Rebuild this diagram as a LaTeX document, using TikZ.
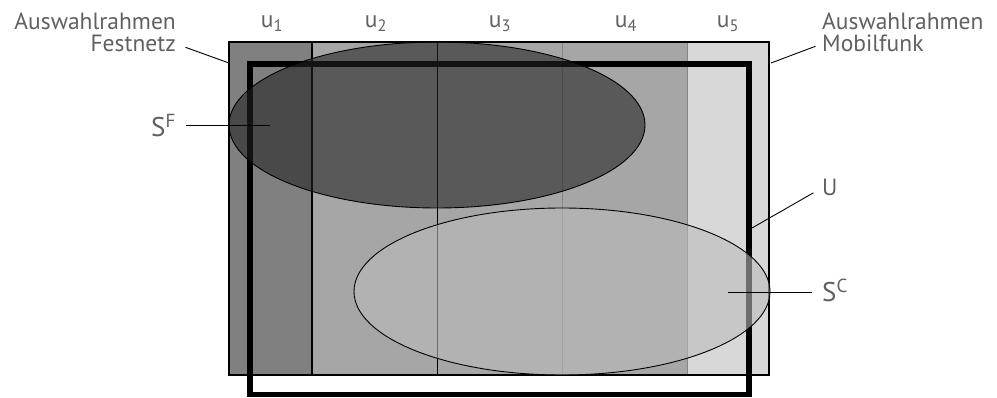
\documentclass[tikz,border=0pt]{standalone}
\usepackage{fontspec}
\setmainfont{PT Sans}
\usetikzlibrary{shapes.geometric}
\definecolor{txtgray}{HTML}{606060}
\definecolor{colA}{HTML}{808080}
\definecolor{colB}{HTML}{A6A6A6}
\definecolor{colC}{HTML}{D8D8D8}
\definecolor{setF}{HTML}{222222}
\definecolor{setC}{HTML}{BCBCBC}
\definecolor{sepgray}{HTML}{858585}

\begin{document}
\begin{tikzpicture}[
  x=1pt, y=-1pt,
  lbl/.style={inner sep=0pt, text=txtgray, font=\fontsize{23.5}{20}\selectfont},
  biglbl/.style={lbl, font=\fontsize{27}{27}\selectfont},
  leader/.style={draw=black, line width=0.9pt, shorten <=10pt},
  sample/.style={ellipse, draw=black, line width=0.9pt, fill opacity=0.58, minimum width=416pt, minimum height=166pt, inner sep=0pt},
  sep/.style={line width=0.9pt},
]
\useasboundingbox (0,0) rectangle (997,398);

% frames
\fill[colA] (229,42) rectangle (312,375);
\fill[colB] (312,42) rectangle (687,375);
\fill[colC] (687,42) rectangle (769,375);
\draw[sep] (437,42) -- (437,375);
\draw[sep, sepgray] (562,42) -- (562,375);
\draw[sep, sepgray] (687,42) -- (687,375);
\draw[line width=1.2pt] (312,42) -- (312,375);
\draw[line width=1.5pt] (229,42) rectangle (769,375);

% U
\draw[line width=5.5pt] (250,64) rectangle (749,394.5);

% samples
\node[sample, fill=setF] (sF) at (437,125) {};
\node[sample, fill=setC, minimum height=167pt] (sC) at (562,291.5) {};

% labels
\node[lbl, anchor=base east] (fnTop) at (176,30) {Auswahlrahmen};
\node[lbl, anchor=base east] (fn) at (176,52) {Festnetz};
\node[lbl, anchor=base west] (mfTop) at (822,30) {Auswahlrahmen};
\node[lbl, anchor=base west] (mf) at (822,52) {Mobilfunk};

\foreach \i/\x in {1/272,2/376,3/500,4/626,5/728}
  \node[lbl, anchor=base] (u\i) at (\x,28) {u\textsubscript{\i}};

\node[biglbl, anchor=base east] (sFlbl) at (176,137) {S\textsuperscript{F}};
\node[biglbl, anchor=base west] (sClbl) at (822,302) {S\textsuperscript{C}};
\node[lbl, anchor=base west] (ulbl) at (822,196) {U};

\coordinate (fnpt) at (229,63);
\coordinate (mfpt) at (771,63);
\coordinate (sFpt) at (270,125);
\coordinate (sCpt) at (728,292);
\coordinate (upt) at (752,228);

% leaders
\draw[leader] (fn.east) -- (fnpt);
\draw[leader, shorten <=7pt] (mf.west) -- (mfpt);
\draw[leader] (sFlbl.east |- sFpt) -- (sFpt);
\draw[leader] (sClbl.west |- sCpt) -- (sCpt);
\draw[leader] (ulbl.west) -- (upt);

\end{tikzpicture}
\end{document}
